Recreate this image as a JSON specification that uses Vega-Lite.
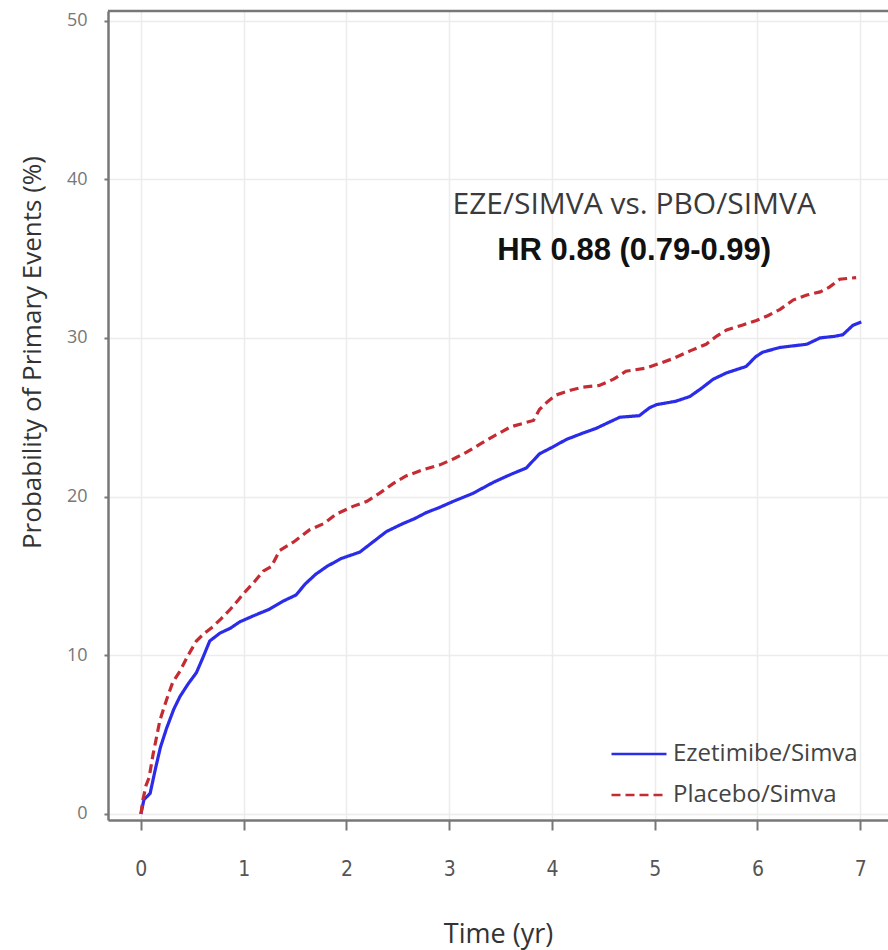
{
  "$schema": "https://vega.github.io/schema/vega-lite/v6.json",
  "width": 780,
  "height": 809,
  "autosize": {"type": "none"},
  "padding": {"left": 108, "top": 11, "right": 0, "bottom": 130},
  "background": "white",
  "config": {"view": {"stroke": null}},
  "datasets": {
    "km": [
      {"t": 0, "p": 0, "group": "Ezetimibe/Simva"},
      {"t": 0.03, "p": 0.9, "group": "Ezetimibe/Simva"},
      {"t": 0.06, "p": 1.1, "group": "Ezetimibe/Simva"},
      {"t": 0.09, "p": 1.3, "group": "Ezetimibe/Simva"},
      {"t": 0.14, "p": 2.8, "group": "Ezetimibe/Simva"},
      {"t": 0.19, "p": 4.2, "group": "Ezetimibe/Simva"},
      {"t": 0.25, "p": 5.4, "group": "Ezetimibe/Simva"},
      {"t": 0.32, "p": 6.6, "group": "Ezetimibe/Simva"},
      {"t": 0.38, "p": 7.4, "group": "Ezetimibe/Simva"},
      {"t": 0.46, "p": 8.2, "group": "Ezetimibe/Simva"},
      {"t": 0.54, "p": 8.9, "group": "Ezetimibe/Simva"},
      {"t": 0.6, "p": 9.8, "group": "Ezetimibe/Simva"},
      {"t": 0.67, "p": 10.9, "group": "Ezetimibe/Simva"},
      {"t": 0.77, "p": 11.4, "group": "Ezetimibe/Simva"},
      {"t": 0.87, "p": 11.7, "group": "Ezetimibe/Simva"},
      {"t": 0.96, "p": 12.1, "group": "Ezetimibe/Simva"},
      {"t": 1.1, "p": 12.5, "group": "Ezetimibe/Simva"},
      {"t": 1.25, "p": 12.9, "group": "Ezetimibe/Simva"},
      {"t": 1.38, "p": 13.4, "group": "Ezetimibe/Simva"},
      {"t": 1.51, "p": 13.8, "group": "Ezetimibe/Simva"},
      {"t": 1.6, "p": 14.5, "group": "Ezetimibe/Simva"},
      {"t": 1.7, "p": 15.1, "group": "Ezetimibe/Simva"},
      {"t": 1.81, "p": 15.6, "group": "Ezetimibe/Simva"},
      {"t": 1.95, "p": 16.1, "group": "Ezetimibe/Simva"},
      {"t": 2.13, "p": 16.5, "group": "Ezetimibe/Simva"},
      {"t": 2.25, "p": 17.1, "group": "Ezetimibe/Simva"},
      {"t": 2.39, "p": 17.8, "group": "Ezetimibe/Simva"},
      {"t": 2.55, "p": 18.3, "group": "Ezetimibe/Simva"},
      {"t": 2.66, "p": 18.6, "group": "Ezetimibe/Simva"},
      {"t": 2.78, "p": 19.0, "group": "Ezetimibe/Simva"},
      {"t": 2.9, "p": 19.3, "group": "Ezetimibe/Simva"},
      {"t": 3.04, "p": 19.7, "group": "Ezetimibe/Simva"},
      {"t": 3.23, "p": 20.2, "group": "Ezetimibe/Simva"},
      {"t": 3.43, "p": 20.9, "group": "Ezetimibe/Simva"},
      {"t": 3.6, "p": 21.4, "group": "Ezetimibe/Simva"},
      {"t": 3.75, "p": 21.8, "group": "Ezetimibe/Simva"},
      {"t": 3.88, "p": 22.7, "group": "Ezetimibe/Simva"},
      {"t": 4.0, "p": 23.1, "group": "Ezetimibe/Simva"},
      {"t": 4.14, "p": 23.6, "group": "Ezetimibe/Simva"},
      {"t": 4.3, "p": 24.0, "group": "Ezetimibe/Simva"},
      {"t": 4.43, "p": 24.3, "group": "Ezetimibe/Simva"},
      {"t": 4.56, "p": 24.7, "group": "Ezetimibe/Simva"},
      {"t": 4.66, "p": 25.0, "group": "Ezetimibe/Simva"},
      {"t": 4.85, "p": 25.1, "group": "Ezetimibe/Simva"},
      {"t": 4.95, "p": 25.6, "group": "Ezetimibe/Simva"},
      {"t": 5.02, "p": 25.8, "group": "Ezetimibe/Simva"},
      {"t": 5.2, "p": 26.0, "group": "Ezetimibe/Simva"},
      {"t": 5.34, "p": 26.3, "group": "Ezetimibe/Simva"},
      {"t": 5.45, "p": 26.8, "group": "Ezetimibe/Simva"},
      {"t": 5.57, "p": 27.4, "group": "Ezetimibe/Simva"},
      {"t": 5.7, "p": 27.8, "group": "Ezetimibe/Simva"},
      {"t": 5.89, "p": 28.2, "group": "Ezetimibe/Simva"},
      {"t": 5.98, "p": 28.8, "group": "Ezetimibe/Simva"},
      {"t": 6.05, "p": 29.1, "group": "Ezetimibe/Simva"},
      {"t": 6.22, "p": 29.4, "group": "Ezetimibe/Simva"},
      {"t": 6.35, "p": 29.5, "group": "Ezetimibe/Simva"},
      {"t": 6.48, "p": 29.6, "group": "Ezetimibe/Simva"},
      {"t": 6.61, "p": 30.0, "group": "Ezetimibe/Simva"},
      {"t": 6.75, "p": 30.1, "group": "Ezetimibe/Simva"},
      {"t": 6.83, "p": 30.2, "group": "Ezetimibe/Simva"},
      {"t": 6.93, "p": 30.8, "group": "Ezetimibe/Simva"},
      {"t": 7.01, "p": 31.0, "group": "Ezetimibe/Simva"},
      {"t": 0, "p": 0, "group": "Placebo/Simva"},
      {"t": 0.02, "p": 0.9, "group": "Placebo/Simva"},
      {"t": 0.05, "p": 1.8, "group": "Placebo/Simva"},
      {"t": 0.08, "p": 2.3, "group": "Placebo/Simva"},
      {"t": 0.12, "p": 3.8, "group": "Placebo/Simva"},
      {"t": 0.185, "p": 5.9, "group": "Placebo/Simva"},
      {"t": 0.25, "p": 7.2, "group": "Placebo/Simva"},
      {"t": 0.31, "p": 8.3, "group": "Placebo/Simva"},
      {"t": 0.38, "p": 9.0, "group": "Placebo/Simva"},
      {"t": 0.46, "p": 10.0, "group": "Placebo/Simva"},
      {"t": 0.54, "p": 10.9, "group": "Placebo/Simva"},
      {"t": 0.62, "p": 11.4, "group": "Placebo/Simva"},
      {"t": 0.7, "p": 11.8, "group": "Placebo/Simva"},
      {"t": 0.78, "p": 12.3, "group": "Placebo/Simva"},
      {"t": 0.87, "p": 12.9, "group": "Placebo/Simva"},
      {"t": 0.95, "p": 13.5, "group": "Placebo/Simva"},
      {"t": 1.0, "p": 13.9, "group": "Placebo/Simva"},
      {"t": 1.1, "p": 14.6, "group": "Placebo/Simva"},
      {"t": 1.19, "p": 15.3, "group": "Placebo/Simva"},
      {"t": 1.27, "p": 15.6, "group": "Placebo/Simva"},
      {"t": 1.35, "p": 16.6, "group": "Placebo/Simva"},
      {"t": 1.5, "p": 17.2, "group": "Placebo/Simva"},
      {"t": 1.64, "p": 17.9, "group": "Placebo/Simva"},
      {"t": 1.78, "p": 18.3, "group": "Placebo/Simva"},
      {"t": 1.9, "p": 18.9, "group": "Placebo/Simva"},
      {"t": 2.07, "p": 19.4, "group": "Placebo/Simva"},
      {"t": 2.2, "p": 19.7, "group": "Placebo/Simva"},
      {"t": 2.32, "p": 20.2, "group": "Placebo/Simva"},
      {"t": 2.45, "p": 20.8, "group": "Placebo/Simva"},
      {"t": 2.58, "p": 21.3, "group": "Placebo/Simva"},
      {"t": 2.75, "p": 21.7, "group": "Placebo/Simva"},
      {"t": 2.91, "p": 22.0, "group": "Placebo/Simva"},
      {"t": 3.05, "p": 22.4, "group": "Placebo/Simva"},
      {"t": 3.17, "p": 22.8, "group": "Placebo/Simva"},
      {"t": 3.3, "p": 23.3, "group": "Placebo/Simva"},
      {"t": 3.43, "p": 23.8, "group": "Placebo/Simva"},
      {"t": 3.6, "p": 24.4, "group": "Placebo/Simva"},
      {"t": 3.82, "p": 24.8, "group": "Placebo/Simva"},
      {"t": 3.88, "p": 25.5, "group": "Placebo/Simva"},
      {"t": 3.96, "p": 26.0, "group": "Placebo/Simva"},
      {"t": 4.04, "p": 26.4, "group": "Placebo/Simva"},
      {"t": 4.18, "p": 26.7, "group": "Placebo/Simva"},
      {"t": 4.3, "p": 26.9, "group": "Placebo/Simva"},
      {"t": 4.46, "p": 27.0, "group": "Placebo/Simva"},
      {"t": 4.6, "p": 27.4, "group": "Placebo/Simva"},
      {"t": 4.72, "p": 27.9, "group": "Placebo/Simva"},
      {"t": 4.92, "p": 28.1, "group": "Placebo/Simva"},
      {"t": 5.05, "p": 28.4, "group": "Placebo/Simva"},
      {"t": 5.18, "p": 28.7, "group": "Placebo/Simva"},
      {"t": 5.35, "p": 29.2, "group": "Placebo/Simva"},
      {"t": 5.5, "p": 29.6, "group": "Placebo/Simva"},
      {"t": 5.6, "p": 30.1, "group": "Placebo/Simva"},
      {"t": 5.7, "p": 30.5, "group": "Placebo/Simva"},
      {"t": 5.85, "p": 30.8, "group": "Placebo/Simva"},
      {"t": 5.99, "p": 31.1, "group": "Placebo/Simva"},
      {"t": 6.1, "p": 31.4, "group": "Placebo/Simva"},
      {"t": 6.22, "p": 31.8, "group": "Placebo/Simva"},
      {"t": 6.35, "p": 32.4, "group": "Placebo/Simva"},
      {"t": 6.48, "p": 32.7, "group": "Placebo/Simva"},
      {"t": 6.61, "p": 32.9, "group": "Placebo/Simva"},
      {"t": 6.7, "p": 33.2, "group": "Placebo/Simva"},
      {"t": 6.8, "p": 33.7, "group": "Placebo/Simva"},
      {"t": 6.96, "p": 33.8, "group": "Placebo/Simva"}
    ]
  },
  "layer": [
    {
      "data": {"name": "km"},
      "mark": {"type": "line", "strokeWidth": 3.2, "clip": true},
      "encoding": {
        "x": {
          "field": "t", "type": "quantitative",
          "scale": {"domain": [-0.32, 7.27], "nice": false, "zero": false},
          "axis": {
            "title": "Time (yr)",
            "values": [0, 1, 2, 3, 4, 5, 6, 7],
            "format": "d",
            "grid": true, "gridColor": "#ececec", "gridWidth": 1.5,
            "domainColor": "#777", "domainWidth": 2.5,
            "tickColor": "#777", "tickSize": 10, "tickWidth": 2,
            "labelFont": "'DejaVu Sans Condensed', 'Roboto Condensed', Roboto, sans-serif", "labelFontSize": 21, "labelColor": "#555",
            "labelPadding": 28,
            "titleFont": "Open Sans", "titleFontSize": 27, "titleFontWeight": "normal", "titleColor": "#333",
            "titleBaseline": "alphabetic", "titleY": 122
          }
        },
        "y": {
          "field": "p", "type": "quantitative",
          "scale": {"domain": [-0.38, 50.6], "nice": false, "zero": false},
          "axis": {
            "title": "Probability of Primary Events (%)",
            "values": [0, 10, 20, 30, 40, 50],
            "grid": true, "gridColor": "#ececec", "gridWidth": 1.5,
            "domainColor": "#777", "domainWidth": 2.5,
            "tickColor": "#777", "tickSize": 4, "tickWidth": 2,
            "labelFont": "Open Sans", "labelFontSize": 18, "labelColor": "#777",
            "labelPadding": 17,
            "titleFont": "Open Sans", "titleFontSize": 26, "titleFontWeight": "normal", "titleColor": "#333",
            "titleAngle": -90, "titleBaseline": "alphabetic", "titleAlign": "center",
            "titleX": -68, "titleY": 341
          }
        },
        "color": {
          "field": "group", "type": "nominal",
          "scale": {"domain": ["Ezetimibe/Simva", "Placebo/Simva"], "range": ["#2b2bea", "#c42b33"]},
          "legend": {
            "title": null,
            "orient": "none", "legendX": 502, "legendY": 714,
            "symbolType": "stroke", "symbolSize": 3025, "symbolStrokeWidth": 2.5,
            "labelFont": "Open Sans", "labelFontSize": 24, "labelColor": "#444", "labelLimit": 400,
            "labelOffset": 5, "rowPadding": -23
          }
        },
        "strokeDash": {
          "field": "group", "type": "nominal",
          "scale": {"domain": ["Ezetimibe/Simva", "Placebo/Simva"], "range": [[1, 0], [9, 5]]},
          "legend": null
        }
      }
    },
    {
      "data": {"values": [{}]},
      "mark": {"type": "rule", "color": "#777", "strokeWidth": 2.5},
      "encoding": {"y": {"datum": 50.6}}
    },
    {
      "data": {"values": [{}]},
      "mark": {"type": "text", "text": "EZE/SIMVA vs. PBO/SIMVA", "font": "Open Sans", "fontSize": 30, "color": "#3a3a3a", "align": "center", "baseline": "middle"},
      "encoding": {"x": {"datum": 4.8}, "y": {"datum": 38.4}}
    },
    {
      "data": {"values": [{}]},
      "mark": {"type": "text", "text": "HR 0.88 (0.79-0.99)", "font": "Liberation Sans", "fontSize": 31, "fontWeight": "bold", "color": "#111", "align": "center", "baseline": "middle"},
      "encoding": {"x": {"datum": 4.8}, "y": {"datum": 35.5}}
    }
  ]
}
